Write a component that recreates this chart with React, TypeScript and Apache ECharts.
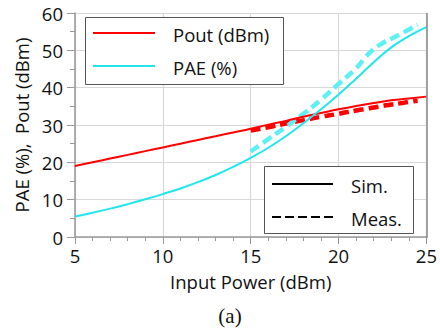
import React, { useEffect, useRef } from "react";
import * as echarts from "echarts";

const simX = [5, 6, 7, 8, 9, 10, 11, 12, 13, 14, 15, 16, 17, 18, 19, 20, 21, 22, 23, 24, 25];
const poutSim = [19, 20, 21, 22, 23, 24, 25, 26, 27, 28, 29, 30.1, 31.1, 32.2, 33.2, 34.2, 35.1, 35.9, 36.6, 37.1, 37.6];
const paeSim = [5.5, 6.5, 7.6, 8.8, 10.1, 11.5, 13.0, 14.7, 16.6, 18.8, 21.2, 23.9, 27.0, 30.5, 34.2, 38.2, 42.4, 46.8, 50.8, 53.8, 56.2];

const measX = [15, 16, 17, 18, 19, 20, 21, 21.5, 22, 22.5, 23, 23.5, 24, 24.5];
const poutMeas = [28.5, 29.4, 30.4, 31.3, 32.2, 33.0, 33.9, 34.3, 34.7, 35.1, 35.5, 35.8, 36.2, 36.5];
const paeMeas = [22.9, 26.2, 29.5, 33.0, 36.8, 41.0, 45.2, 48.0, 50.3, 51.9, 53.1, 54.3, 55.6, 56.8];

const xTicks = [5, 10, 15, 20, 25];
const yTicks = [0, 10, 20, 30, 40, 50, 60];

const legend1 = ["Pout (dBm)", "PAE (%)"];
const legend2 = ["Sim.", "Meas."];

const RED = "#ff0000";
const CYAN = "#20e6ee";
const CYAN_M = "#5cf0f4";
const FONT = "'Open Sans', 'DejaVu Sans', sans-serif";
const FS = 18.5;

function pairs(xs: number[], ys: number[]) {
  return xs.map((x, i) => [x, ys[i]]);
}

export default function App() {
  const ref = useRef<HTMLDivElement>(null);
  useEffect(() => {
    if (!ref.current) return;
    const chart = echarts.init(ref.current, undefined, { renderer: "svg" });
    chart.setOption({
      animation: false,
      backgroundColor: "#ffffff",
      grid: { left: 75, right: 13, top: 13, bottom: 92, containLabel: false },
      xAxis: {
        type: "value",
        min: xTicks[0],
        max: xTicks[xTicks.length - 1],
        interval: 5,
        name: "Input Power (dBm)",
        nameLocation: "middle",
        nameGap: 35,
        nameTextStyle: { fontFamily: FONT, fontSize: FS, color: "#111" },
        axisLine: { onZero: false, lineStyle: { color: "#999", width: 1.5 } },
        axisTick: { show: true, inside: false, length: 7, lineStyle: { color: "#999" } },
        minorTick: { show: true, splitNumber: 5, length: 4, lineStyle: { color: "#999" } },
        axisLabel: { fontFamily: FONT, fontSize: FS, color: "#111", margin: 9 },
        splitLine: { show: true, lineStyle: { color: "#d8d8d8", width: 1.2 } },
      },
      yAxis: {
        type: "value",
        min: yTicks[0],
        max: yTicks[yTicks.length - 1],
        interval: 10,
        name: "PAE (%),  Pout (dBm)",
        nameLocation: "middle",
        nameGap: 38,
        nameRotate: 90,
        nameTextStyle: { fontFamily: FONT, fontSize: FS, color: "#111" },
        axisLine: { show: true, lineStyle: { color: "#999", width: 1.5 } },
        axisTick: { show: true, inside: false, length: 8, lineStyle: { color: "#999" } },
        minorTick: { show: true, splitNumber: 2, length: 5, lineStyle: { color: "#999" } },
        axisLabel: { fontFamily: FONT, fontSize: FS, color: "#111", margin: 12 },
        splitLine: { show: true, lineStyle: { color: "#d8d8d8", width: 1.2 } },
      },
      series: [
        {
          type: "line", name: "Pout Sim", data: pairs(simX, poutSim), smooth: true, showSymbol: false,
          lineStyle: { color: RED, width: 2 }, z: 3,
        },
        {
          type: "line", name: "PAE Sim", data: pairs(simX, paeSim), smooth: true, showSymbol: false,
          lineStyle: { color: CYAN, width: 2 }, z: 3,
        },
        {
          type: "line", name: "Pout Meas", data: pairs(measX, poutMeas), smooth: true, showSymbol: false,
          lineStyle: { color: RED, width: 4.5, type: [10, 5] }, z: 2,
        },
        {
          type: "line", name: "PAE Meas", data: pairs(measX, paeMeas), smooth: true, showSymbol: false,
          lineStyle: { color: CYAN_M, width: 4.5, type: [10, 5] }, z: 2,
        },
      ],
      graphic: [
        { type: "line", shape: { x1: 427, y1: 13, x2: 427, y2: 238 }, style: { stroke: "#888", lineWidth: 1.5 }, z: 10 },
        { type: "rect", shape: { x: 85.5, y: 17.5, width: 198, height: 67 }, style: { fill: "#ffffff", stroke: "#555", lineWidth: 1 }, z: 20 },
        { type: "line", shape: { x1: 93, y1: 33, x2: 155, y2: 33 }, style: { stroke: RED, lineWidth: 2 }, z: 21 },
        { type: "text", x: 173, y: 34, style: { text: legend1[0], font: `${FS}px ${FONT}`, fill: "#111", textVerticalAlign: "middle" }, z: 21 },
        { type: "line", shape: { x1: 93, y1: 66, x2: 155, y2: 66 }, style: { stroke: CYAN, lineWidth: 2 }, z: 21 },
        { type: "text", x: 173, y: 67, style: { text: legend1[1], font: `${FS}px ${FONT}`, fill: "#111", textVerticalAlign: "middle" }, z: 21 },
        { type: "rect", shape: { x: 264.5, y: 166.5, width: 149, height: 67 }, style: { fill: "#ffffff", stroke: "#555", lineWidth: 1 }, z: 20 },
        { type: "line", shape: { x1: 272, y1: 184, x2: 333, y2: 184 }, style: { stroke: "#000", lineWidth: 2 }, z: 21 },
        { type: "text", x: 351, y: 185, style: { text: legend2[0], font: `${FS}px ${FONT}`, fill: "#111", textVerticalAlign: "middle" }, z: 21 },
        { type: "line", shape: { x1: 272, y1: 217, x2: 333, y2: 217 }, style: { stroke: "#000", lineWidth: 2, lineDash: [9, 4] }, z: 21 },
        { type: "text", x: 351, y: 218, style: { text: legend2[1], font: `${FS}px ${FONT}`, fill: "#111", textVerticalAlign: "middle" }, z: 21 },
        { type: "text", x: 230, y: 316, style: { text: "(a)", font: "21px 'Liberation Serif', 'DejaVu Serif', serif", fill: "#111", textAlign: "center", textVerticalAlign: "middle" }, z: 21 },
      ],
    });
    return () => chart.dispose();
  }, []);
  return <div ref={ref} style={{ width: 440, height: 329, position: "absolute", left: 0, top: 0 }} />;
}
